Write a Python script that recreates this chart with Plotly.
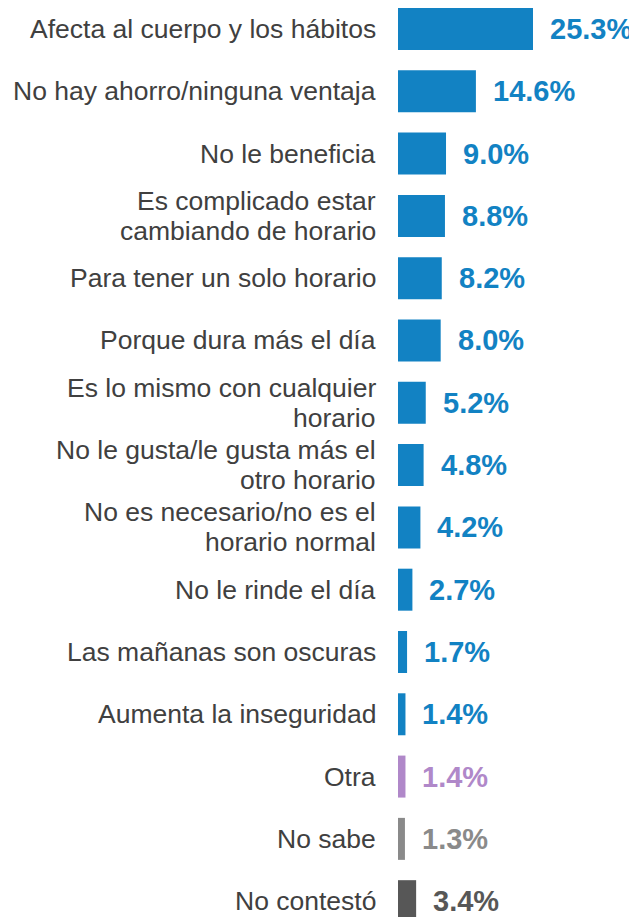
import plotly.graph_objects as go

categorias = [
    "Afecta al cuerpo y los hábitos",
    "No hay ahorro/ninguna ventaja",
    "No le beneficia",
    "Es complicado estar<br>cambiando de horario",
    "Para tener un solo horario",
    "Porque dura más el día",
    "Es lo mismo con cualquier<br>horario",
    "No le gusta/le gusta más el<br>otro horario",
    "No es necesario/no es el<br>horario normal",
    "No le rinde el día",
    "Las mañanas son oscuras",
    "Aumenta la inseguridad",
    "Otra",
    "No sabe",
    "No contestó",
]
valores = [25.3, 14.6, 9.0, 8.8, 8.2, 8.0, 5.2, 4.8, 4.2, 2.7, 1.7, 1.4, 1.4, 1.3, 3.4]

azul = "#1282c3"
colores = [azul] * 12 + ["#b088c9", "#8a8a8a", "#575757"]
fuente = "Liberation Sans, Arial"

fig = go.Figure()
fig.add_trace(go.Bar(
    x=valores, y=categorias, orientation="h",
    marker=dict(color=colores, line=dict(width=0)),
    width=0.674, hoverinfo="skip",
))

for cat, v, c in zip(categorias, valores, colores):
    # porcentaje a la derecha de la barra
    fig.add_annotation(
        x=v, y=cat, text="<b>%.1f%%</b>" % v, showarrow=False,
        xanchor="left", yanchor="middle", xshift=15,
        font=dict(family=fuente, size=29, color=c),
    )
    # etiqueta a la izquierda, una anotacion por linea (interlineado mas cerrado)
    lineas = cat.split("<br>")
    n = len(lineas)
    for k, linea in enumerate(lineas):
        fig.add_annotation(
            x=0, y=cat, text=linea, showarrow=False,
            xanchor="right", yanchor="middle", xshift=-20,
            yshift=((n - 1) / 2 - k) * 30,
            font=dict(family=fuente, size=26.5, color="#404040"),
        )

fig.update_layout(
    width=629, height=909,
    margin=dict(l=390, r=0, t=0, b=0),
    paper_bgcolor="white", plot_bgcolor="white",
    showlegend=False,
    font=dict(family=fuente, size=26, color="#404040"),
    xaxis=dict(range=[0, 44.79], visible=False, fixedrange=True),
    yaxis=dict(
        type="category", range=[14.254, -0.337],
        showgrid=False, zeroline=False, showline=False, ticks="",
        showticklabels=False, fixedrange=True,
    ),
)

fig.write_html("out.html")
